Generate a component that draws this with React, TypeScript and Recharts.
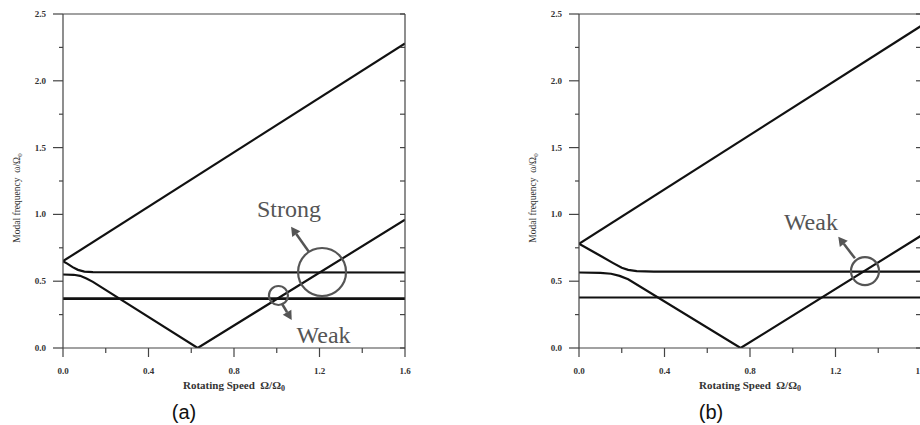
import React from "react";
import { LineChart, Line, XAxis, YAxis, ReferenceDot, ReferenceLine, Label } from "recharts";

type Pt = [number, number];

// panel (a) curves: [rotating speed, modal frequency]
const A_UPPER: Pt[] = [[0, 0.65], [1.6, 2.28]];
const A_MIDDLE: Pt[] = [[0, 0.65], [0.02, 0.632], [0.045, 0.605], [0.07, 0.585], [0.1, 0.572], [0.14, 0.568], [1.6, 0.565]];
const A_LOWER: Pt[] = [[0, 0.55], [0.05, 0.548], [0.08, 0.54], [0.11, 0.52], [0.14, 0.495], [0.63, 0], [1.6, 0.96]];
const A_FLAT: Pt[] = [[0, 0.37], [1.6, 0.37]];

// panel (b) curves
const B_UPPER: Pt[] = [[0, 0.78], [1.6, 2.41]];
const B_MIDDLE: Pt[] = [[0, 0.78], [0.1, 0.69], [0.16, 0.635], [0.2, 0.6], [0.23, 0.585], [0.27, 0.575], [0.35, 0.572], [1.6, 0.572]];
const B_LOWER: Pt[] = [[0, 0.565], [0.1, 0.563], [0.15, 0.556], [0.19, 0.54], [0.23, 0.515], [0.756, 0], [1.6, 0.84]];
const B_FLAT: Pt[] = [[0, 0.378], [1.6, 0.378]];

// annotations, data coordinates
const A_RINGS: Pt[] = [[1.212, 0.569], [1.008, 0.393]];
const A_ARROWS: [Pt, Pt][] = [[[1.151, 0.719], [1.067, 0.908]], [[1.023, 0.335], [1.07, 0.21]]];
const A_NOTES: Pt[] = [[1.057, 0.98], [1.219, 0.037]];
const A_NOTE_TEXT = ["Strong", "Weak"];

const B_RINGS: Pt[] = [[1.338, 0.576]];
const B_ARROWS: [Pt, Pt][] = [[[1.291, 0.671], [1.213, 0.833]]];
const B_NOTES: Pt[] = [[1.085, 0.883]];
const B_NOTE_TEXT = ["Weak"];

const X_TICKS = [0, 0.2, 0.4, 0.6, 0.8, 1.0, 1.2, 1.4, 1.6];
const X_LABELED = [0, 0.4, 0.8, 1.2, 1.6];
const Y_TICKS = [0, 0.25, 0.5, 0.75, 1.0, 1.25, 1.5, 1.75, 2.0, 2.25, 2.5];
const Y_LABELED = [0, 0.5, 1.0, 1.5, 2.0, 2.5];

const AXIS = "#444";
const INK = "#111";
const NOTE = "#555";
const SERIF = '"Liberation Serif", "Times New Roman", serif';
const TICK_FONT = { fontFamily: SERIF, fontWeight: 700, fontSize: 9, fill: "#333" };

const toRows = (pts: Pt[]) => pts.map(([x, y]) => ({ x, y }));
const isLabeled = (list: number[], v: number) => list.some((t) => Math.abs(t - v) < 1e-6);

const BottomTick = (p: any) => {
  const v = p.payload.value;
  const major = isLabeled(X_LABELED, v);
  return (
    <g>
      <line x1={p.x} y1={p.y} x2={p.x} y2={p.y + (major ? 9 : 5)} stroke={AXIS} strokeWidth={1.2} />
      {major && (
        <text x={p.x} y={p.y + 26} textAnchor="middle" style={TICK_FONT}>
          {v.toFixed(1)}
        </text>
      )}
    </g>
  );
};

const LeftTick = (p: any) => {
  const v = p.payload.value;
  const major = isLabeled(Y_LABELED, v);
  return (
    <g>
      <line x1={p.x} y1={p.y} x2={p.x - (major ? 10 : 4)} y2={p.y} stroke={AXIS} strokeWidth={1.2} />
      {major && (
        <text x={p.x - 17} y={p.y + 3} textAnchor="end" style={TICK_FONT}>
          {v.toFixed(1)}
        </text>
      )}
    </g>
  );
};

const TopTick = (p: any) => <line x1={p.x} y1={p.y} x2={p.x} y2={p.y + 5} stroke={AXIS} strokeWidth={1.2} />;
const RightTick = (p: any) => <line x1={p.x} y1={p.y} x2={p.x - 5} y2={p.y} stroke={AXIS} strokeWidth={1.2} />;

const Arrow = (p: any) => {
  const { x1, y1, x2, y2 } = p;
  const a = Math.atan2(y2 - y1, x2 - x1);
  const c = Math.cos(a);
  const s = Math.sin(a);
  const bx = x2 - 9 * c;
  const by = y2 - 9 * s;
  return (
    <g>
      <line x1={x1} y1={y1} x2={bx} y2={by} stroke={NOTE} strokeWidth={2.5} />
      <polygon
        points={`${x2},${y2} ${bx + 5 * s},${by - 5 * c} ${bx - 5 * s},${by + 5 * c}`}
        fill={NOTE}
      />
    </g>
  );
};

const XTitle = (p: any) => {
  const vb = p.viewBox;
  return (
    <text x={vb.x + vb.width / 2} y={vb.y + 41} textAnchor="middle"
      style={{ fontFamily: SERIF, fontWeight: 700, fontSize: 11, fill: "#333" }}>
      Rotating Speed{"\u00a0\u00a0"}Ω/Ω<tspan dy={2} fontSize={8}>0</tspan>
    </text>
  );
};

const YTitle = (p: any) => {
  const vb = p.viewBox;
  const cx = vb.x + 20;
  const cy = vb.y + vb.height / 2 + 17;
  return (
    <text x={cx} y={cy} textAnchor="middle" transform={`rotate(-90, ${cx}, ${cy})`}
      style={{ fontFamily: SERIF, fontSize: 9.5, fill: "#333" }}>
      Modal frequency{"\u00a0\u00a0"}ω/Ω<tspan dy={2} fontSize={7}>0</tspan>
    </text>
  );
};

type PanelProps = {
  width: number;
  margin: { top: number; right: number; bottom: number; left: number };
  curves: Pt[][];
  flat: Pt[];
  flatWidth: number;
  rings: Pt[];
  ringR: number[];
  arrows: [Pt, Pt][];
  notes: Pt[];
  noteText: string[];
};

function Panel(props: PanelProps) {
  const { width, margin, curves, flat, flatWidth, rings, ringR, arrows, notes, noteText } = props;
  return (
    <LineChart width={width} height={425} margin={margin}>
      <XAxis dataKey="x" type="number" domain={[0, 1.6]} ticks={X_TICKS} interval={0}
        allowDataOverflow height={50} tickSize={0} tickMargin={0} tickLine={false}
        axisLine={{ stroke: AXIS, strokeWidth: 1.2 }} tick={<BottomTick />}>
        <Label content={<XTitle />} />
      </XAxis>
      <XAxis xAxisId="top" orientation="top" type="number" domain={[0, 1.6]} ticks={X_TICKS}
        interval={0} allowDataOverflow height={1} tickSize={0} tickMargin={0} tickLine={false}
        axisLine={{ stroke: AXIS, strokeWidth: 1.2 }} tick={<TopTick />} />
      <YAxis type="number" domain={[0, 2.5]} ticks={Y_TICKS} interval={0} allowDataOverflow
        width={63} tickSize={0} tickMargin={0} tickLine={false}
        axisLine={{ stroke: AXIS, strokeWidth: 1.2 }} tick={<LeftTick />}>
        <Label content={<YTitle />} />
      </YAxis>
      <YAxis yAxisId="r" orientation="right" type="number" domain={[0, 2.5]} ticks={Y_TICKS}
        interval={0} allowDataOverflow width={1} tickSize={0} tickMargin={0} tickLine={false}
        axisLine={{ stroke: AXIS, strokeWidth: 1.2 }} tick={<RightTick />} />

      {curves.map((c, i) => (
        <Line key={i} data={toRows(c)} dataKey="y" type="linear" stroke={INK} strokeWidth={2.2}
          dot={false} activeDot={false} isAnimationActive={false} />
      ))}
      <Line data={toRows(flat)} dataKey="y" type="linear" stroke={INK} strokeWidth={flatWidth}
        dot={false} activeDot={false} isAnimationActive={false} />

      {rings.map(([x, y], i) => (
        <ReferenceDot key={`r${i}`} x={x} y={y} r={ringR[i]} fill="none" stroke={NOTE}
          strokeWidth={2.2} ifOverflow="visible" />
      ))}
      {arrows.map(([a, b], i) => (
        <ReferenceLine key={`a${i}`} segment={[{ x: a[0], y: a[1] }, { x: b[0], y: b[1] }]}
          ifOverflow="visible" shape={<Arrow />} />
      ))}
      {notes.map(([x, y], i) => (
        <ReferenceDot key={`n${i}`} x={x} y={y} r={0} ifOverflow="visible"
          shape={(p: any) => (
            <text x={p.cx} y={p.cy} textAnchor="middle"
              style={{ fontFamily: SERIF, fontSize: 24, fill: NOTE }}>
              {noteText[i]}
            </text>
          )} />
      ))}
    </LineChart>
  );
}

const captionStyle: React.CSSProperties = {
  position: "absolute",
  top: 400,
  width: 60,
  textAlign: "center",
  fontFamily: '"Liberation Sans", Arial, sans-serif',
  fontSize: 20,
  lineHeight: "24px",
  color: "#111",
};

export default function App() {
  return (
    <div style={{ position: "absolute", left: 0, top: 0, width: 920, height: 425, overflow: "hidden", background: "#fff" }}>
      <div style={{ position: "absolute", left: 0, top: 0 }}>
        <Panel width={460} margin={{ top: 13, right: 54, bottom: 27, left: 0 }}
          curves={[A_UPPER, A_MIDDLE, A_LOWER]} flat={A_FLAT} flatWidth={2.8}
          rings={A_RINGS} ringR={[24, 9.5]} arrows={A_ARROWS} notes={A_NOTES} noteText={A_NOTE_TEXT} />
      </div>
      <div style={{ position: "absolute", left: 460, top: 0 }}>
        <Panel width={481} margin={{ top: 13, right: 19, bottom: 27, left: 56 }}
          curves={[B_UPPER, B_MIDDLE, B_LOWER]} flat={B_FLAT} flatWidth={2}
          rings={B_RINGS} ringR={[14]} arrows={B_ARROWS} notes={B_NOTES} noteText={B_NOTE_TEXT} />
      </div>
      <div style={{ ...captionStyle, left: 154 }}>(a)</div>
      <div style={{ ...captionStyle, left: 681 }}>(b)</div>
    </div>
  );
}
